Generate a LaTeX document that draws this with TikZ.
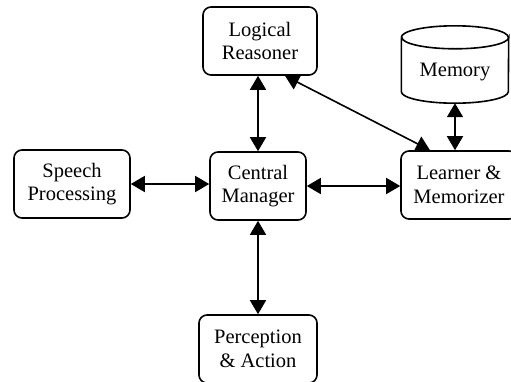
\documentclass[tikz,border=0pt]{standalone}
\usepackage{fontspec}
\setmainfont{Liberation Serif}
\usetikzlibrary{arrows.meta}
\begin{document}
\begin{tikzpicture}[x=1pt,y=-1pt,
  box/.style={draw,line width=1.6pt,rounded corners=8pt,inner sep=0pt,
    align=center,font=\fontsize{20.5}{23.5}\selectfont},
  lbl/.style={inner sep=0pt,font=\fontsize{20.5}{23.5}\selectfont},
  link/.style={line width=1.6pt,{Triangle[length=14pt,width=16pt]}-{Triangle[length=14pt,width=16pt]}}]
\clip (0,0) rectangle (511,381);
\fill[white] (0,0) rectangle (511,381);
% boxes
\node[box,minimum width=114pt,minimum height=68pt] (lr) at (260,41) {Logical\\Reasoner};
\node[box,minimum width=116pt,minimum height=68pt] (sp) at (72,184) {Speech\\Processing};
\node[box,minimum width=96pt,minimum height=68pt] (cm) at (258,186) {Central\\Manager};
\node[box,minimum width=116pt,minimum height=68pt] (lm) at (459,185) {Learner \&\\Memorizer};
\node[box,minimum width=118pt,minimum height=68pt] (pa) at (258,349) {Perception\\\& Action};
% memory cylinder
\node[minimum width=107pt,minimum height=77pt,inner sep=0pt] (mem) at (455,64.5) {};
\draw[line width=1.6pt,fill=white]
  ([yshift=-11.5pt]mem.north west) -- ([yshift=11.5pt]mem.south west)
  arc[start angle=180,end angle=360,x radius=53.5pt,y radius=11.5pt]
  -- ([yshift=-11.5pt]mem.north east)
  arc[start angle=0,end angle=-180,x radius=53.5pt,y radius=11.5pt];
\draw[line width=1.6pt] ([yshift=-11.5pt]mem.north west)
  arc[start angle=180,end angle=0,x radius=53.5pt,y radius=11.5pt];
\node[lbl] (memtxt) at (455,72) {Memory};
% connectors
\draw[link] (sp.east) -- (sp.east -| cm.west);
\draw[link] (cm.east) -- (cm.east -| lm.west);
\draw[link] (cm.north) -- (cm.north |- lr.south);
\draw[link] (cm.south) -- (cm.south |- pa.north);
\draw[link] (mem.south) -- (mem.south |- lm.north);
\draw[link] ([xshift=25pt]lr.south) -- ([xshift=-29pt]lm.north);
\end{tikzpicture}
\end{document}
